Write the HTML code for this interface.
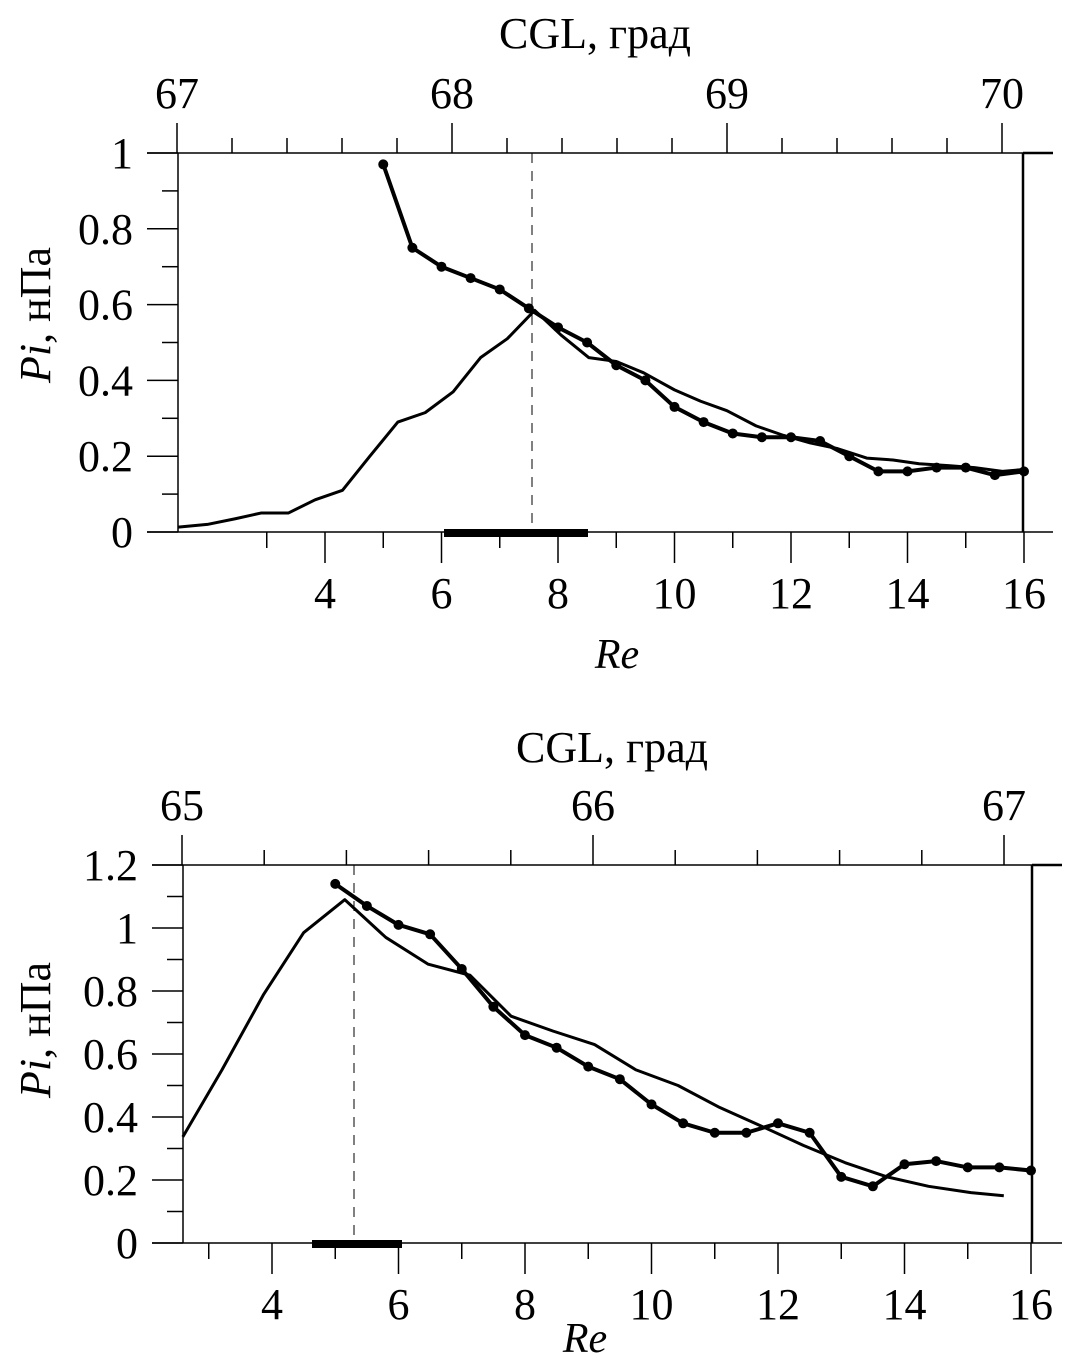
<!DOCTYPE html>
<html><head><meta charset="utf-8"><style>
html,body{margin:0;padding:0;background:#fff}
svg{display:block}
text{font-family:"Liberation Serif",serif;fill:#000}
</style></head><body>
<svg id="s" width="1090" height="1364" viewBox="0 0 1090 1364" xmlns="http://www.w3.org/2000/svg"></svg>
<script>
// ---- Top panel data ----
const topThinRe = [1.48,1.98,2.46,2.9,3.37,3.83,4.3,4.77,5.25,5.72,6.2,6.67,7.13,7.6,8.05,8.53,9,9.47,10,10.45,10.9,11.4,11.87,12.33,12.8,13.3,13.75,14.2,14.7,15.15,15.63,16];
const topThinPi = [0.013,0.02,0.035,0.05,0.05,0.085,0.11,0.2,0.29,0.315,0.37,0.46,0.51,0.585,0.52,0.46,0.45,0.42,0.375,0.345,0.32,0.28,0.255,0.235,0.22,0.195,0.19,0.18,0.175,0.17,0.16,0.165];
const topDotRe = [5,5.5,6,6.5,7,7.5,8,8.5,9,9.5,10,10.5,11,11.5,12,12.5,13,13.5,14,14.5,15,15.5,16];
const topDotPi = [0.97,0.75,0.70,0.67,0.64,0.59,0.54,0.50,0.44,0.40,0.33,0.29,0.26,0.25,0.25,0.24,0.20,0.16,0.16,0.17,0.17,0.15,0.16];
const topXTicks = ["4","6","8","10","12","14","16"];
const topYTicks = ["0","0.2","0.4","0.6","0.8","1"];
const topCglTicks = ["67","68","69","70"];
// ---- Bottom panel data ----
const botThinRe = [2.59,3.21,3.87,4.5,5.15,5.8,6.47,7.13,7.78,8.44,9.1,9.75,10.42,11.08,11.75,12.4,13.06,13.72,14.38,15.05,15.57];
const botThinPi = [0.337,0.55,0.79,0.985,1.09,0.97,0.885,0.85,0.72,0.673,0.63,0.55,0.5,0.43,0.37,0.31,0.255,0.21,0.18,0.16,0.15];
const botDotRe = [5,5.5,6,6.5,7,7.5,8,8.5,9,9.5,10,10.5,11,11.5,12,12.5,13,13.5,14,14.5,15,15.5,16];
const botDotPi = [1.14,1.07,1.01,0.98,0.87,0.75,0.66,0.62,0.56,0.52,0.44,0.38,0.35,0.35,0.38,0.35,0.21,0.18,0.25,0.26,0.24,0.24,0.23];
const botXTicks = ["4","6","8","10","12","14","16"];
const botYTicks = ["0","0.2","0.4","0.6","0.8","1","1.2"];
const botCglTicks = ["65","66","67"];

const NS="http://www.w3.org/2000/svg";
const svg=document.getElementById('s');
function el(tag,attrs,parent){const e=document.createElementNS(NS,tag);for(const k in attrs)e.setAttribute(k,attrs[k]);(parent||svg).appendChild(e);return e;}
function line(g,x1,y1,x2,y2,w,dash){const l=el('line',{x1,y1,x2,y2,stroke:'#000','stroke-width':w||1.5},g);if(dash)l.setAttribute('stroke-dasharray',dash);return l;}
function txt(g,x,y,s,size,anchor,style){const t=el('text',{x,y,'font-size':size,'text-anchor':anchor||'middle'},g);if(style)t.setAttribute('font-style',style);t.textContent=s;return t;}

function panel(P){
  const g=el('g',{});
  
  
  const X=re=>P.x4+(re-4)*P.pxRe;
  const Y=v=>P.y0-v*P.pxV;
  const C=c=>P.c0x+(c-P.c0)*P.pxC;
  // axes
  line(g,P.left-31,P.yb,P.right+30,P.yb,1.5);
  line(g,P.left,P.yt,P.left,P.yb,1.5);
  line(g,P.left-31,P.yt,P.right,P.yt,1.5);
  line(g,P.right,P.yt,P.right+30,P.yt,2.5);
  line(g,P.right,P.yt,P.right,P.yb,2.5);
  // y ticks
  const yl=el('g',{},g);
  
  
  for(let i=0;i<=P.yMax*10+0.01;i++){const v=i/10,y=Y(v);line(yl,i%2?P.left-16:P.left-31,y,P.left,y,1.5);}
  P.yTicks.forEach(s=>{txt(yl,P.left-45,Y(parseFloat(s))+15,s,44,'end');});
  // x ticks
  const xl=el('g',{},g);
  
  
  for(let r=3;r<=16;r++){const x=X(r);line(xl,x,P.yb,x,P.yb+(r%2?16:31),1.5);}
  P.xTicks.forEach(s=>{txt(xl,X(parseFloat(s)),P.yb+P.xLabOff,s,44);});
  const rt=txt(xl,P.reLabX,P.reLabY,'Re',42,'middle','italic');
  
  // top CGL axis
  const cl=el('g',{},g);
  
  
  const c0=parseFloat(P.cglTicks[0]),c1=parseFloat(P.cglTicks[P.cglTicks.length-1]);
  for(let i=0;i<=(c1-c0)*5+0.01;i++){const c=c0+i/5,x=C(c);line(cl,x,P.yt,x,P.yt-(i%5?15:30),1.5);}
  P.cglTicks.forEach(s=>{txt(cl,C(parseFloat(s)),P.yt-45,s,44);});
  const ct=txt(cl,P.cglTitleX,P.cglTitleY,'CGL,  град',44);
  
  // y title
  const yt=el('text',{x:0,y:0,'font-size':44,'text-anchor':'middle',transform:`translate(${P.yTitleX},${P.yTitleY}) rotate(-90)`},g);
  
  
  const i1=el('tspan',{'font-style':'italic'},yt);i1.textContent='Pi';
  const i2=el('tspan',{},yt);i2.textContent=', нПа';
  // dashed & bar
  line(g,P.dashX,P.yt,P.dashX,P.yb,1,'10,8');
  const bar=el('rect',{x:P.barX1,y:P.yb-3,width:P.barX2-P.barX1,height:8,fill:'#000'},g);
  
  
  // thin series
  const thin=el('polyline',{fill:'none',stroke:'#000','stroke-width':3,'stroke-linejoin':'round',points:P.thinRe.map((r,i)=>X(r)+','+Y(P.thinPi[i])).join(' ')},g);
  
  
  const dot=el('polyline',{fill:'none',stroke:'#000','stroke-width':4,'stroke-linejoin':'round',points:P.dotRe.map((r,i)=>X(r)+','+Y(P.dotPi[i])).join(' ')},g);
  
  
  P.dotRe.forEach((r,i)=>{const c=el('circle',{cx:X(r),cy:Y(P.dotPi[i]),r:5,fill:'#000'},g);
    
    });
}
panel({name:'top-panel',x4:325,pxRe:58.25,y0:532,pxV:379,left:178,right:1023,yt:153,yb:532,yMax:1,reMin:1.48,
  c0:67,c0x:177,pxC:275,xTicks:topXTicks,yTicks:topYTicks,cglTicks:topCglTicks,
  thinRe:topThinRe,thinPi:topThinPi,dotRe:topDotRe,dotPi:topDotPi,
  xLabOff:76,reLabX:617,reLabY:668,cglTitleX:595,cglTitleY:48,yTitleX:50,yTitleY:315,dashX:532,barX1:444,barX2:588});
panel({name:'bottom-panel',x4:272,pxRe:63.25,y0:1243,pxV:315,left:183,right:1032,yt:865,yb:1243,yMax:1.2,reMin:2.59,
  c0:65,c0x:182,pxC:411,xTicks:botXTicks,yTicks:botYTicks,cglTicks:botCglTicks,
  thinRe:botThinRe,thinPi:botThinPi,dotRe:botDotRe,dotPi:botDotPi,
  xLabOff:76,reLabX:585,reLabY:1352,cglTitleX:612,cglTitleY:762,yTitleX:50,yTitleY:1030,dashX:354,barX1:312,barX2:402});
</script>
</body></html>
